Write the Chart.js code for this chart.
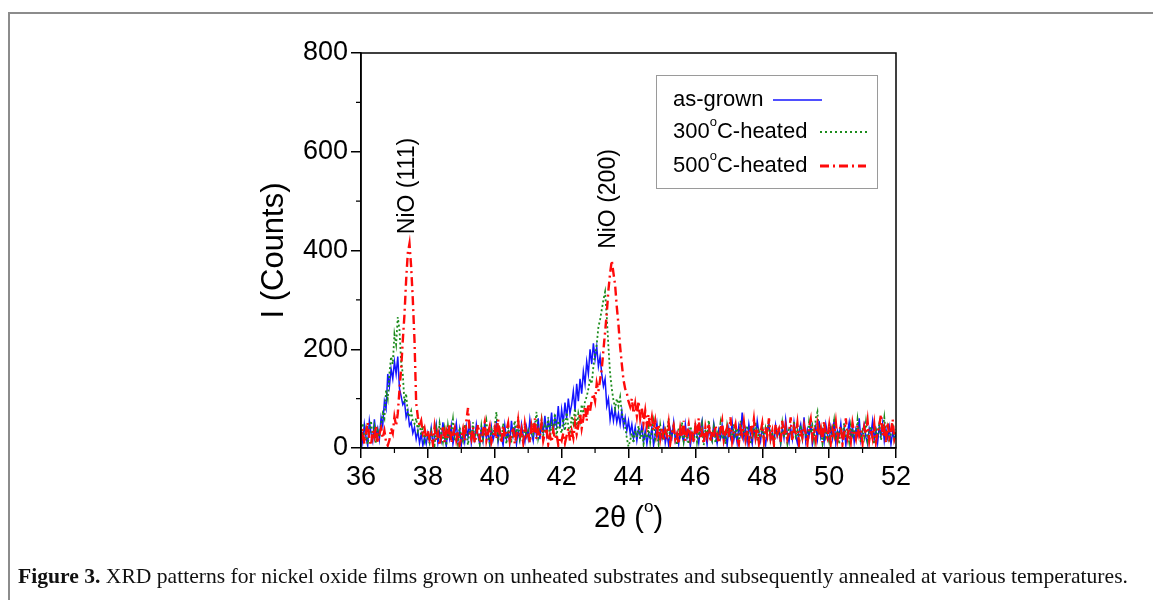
<!DOCTYPE html>
<html>
<head>
<meta charset="utf-8">
<title>XRD patterns - NiO films</title>
<script src="https://cdn.jsdelivr.net/npm/chart.js@4.4.1/dist/chart.umd.min.js"></script>
<style>
  body { margin: 0; background: #fff; width: 1153px; height: 600px; overflow: hidden; position: relative; }
  #frame { position: absolute; left: 8px; top: 12px; right: 0; bottom: -4px; border-top: 2px solid #8c8c8c; border-left: 2px solid #8c8c8c; }
  #wrap { position: absolute; left: 0; top: 0; width: 1153px; height: 600px; }
  #caption { position: absolute; left: 18px; top: 564px; font: 21px "Liberation Serif", serif; color: #111; white-space: nowrap; transform-origin: 0 0; }
</style>
</head>
<body>
<div id="frame"></div>
<div id="wrap"><canvas id="xrdChart" width="1153" height="600"></canvas></div>
<div id="caption"><b>Figure 3.</b> XRD patterns for nickel oxide films grown on unheated substrates and subsequently annealed at various temperatures.</div>
<script>
// scan grid: 2theta from 36 to 52 deg, 0.05 deg step
const angleStart = 36;
const angleStep = 0.05;
const xTicks = [36, 38, 40, 42, 44, 46, 48, 50, 52];
const yTicks = [0, 200, 400, 600, 800];
const seriesNames = ["as-grown", "300°C-heated", "500°C-heated"];
const peakLabels = ["NiO (111)", "NiO (200)"];
const peakAngles = [37.41, 43.42];

// intensity (counts)
const asGrown = [
  35,12,48,22,5,55,30,14,58,25,40,18,62,
  45,95,80,150,125,160,140,175,150,185,120,105,88,95,62,75,45,52,30,42,18,35,10,28,5,22,8,30,
  12,40,6,25,48,10,32,15,52,20,
  4,35,18,45,8,28,50,14,38,6,
  30,12,44,22,55,10,36,18,48,25,
  8,40,15,52,20,34,6,42,16,30,
  50,12,38,22,5,46,18,32,10,55,
  24,40,8,35,16,48,26,12,42,20,
  58,30,14,45,25,60,18,50,32,65,
  28,55,38,72,30,62,45,85,40,78,
  50,92,60,100,70,88,115,75,130,95,
  140,110,155,130,175,150,200,170,212,180,
  205,165,185,150,125,140,85,100,57,80,
  55,78,52,70,48,75,45,62,35,55,
  30,48,20,42,15,38,25,45,12,35,
  8,30,18,42,5,26,50,14,33,20,
  45,10,28,6,38,22,52,15,30,8,
  40,25,12,48,20,35,4,30,16,44,
  26,10,38,55,18,32,7,42,24,14,
  50,28,9,36,20,46,12,30,5,40,
  22,52,16,34,10,45,28,72,20,38,
  12,48,25,8,40,18,55,30,14,44,
  22,6,36,50,16,30,10,46,24,38,
  8,42,20,58,28,12,40,18,52,26,
  10,34,48,20,62,14,38,25,50,8,
  30,45,18,55,22,36,12,48,28,15,
  42,20,58,10,35,25,50,16,40,6,
  32,52,20,44,12,38,26,60,15,34,
  48,22,8,40,28,55,18,36,10,45,
  25,50,14,38,20,42,8,32,18,28
];
const heated300 = [
  25,50,15,38,8,30,55,20,42,10,35,22,48,
  70,60,117,100,150,185,170,230,210,265,240,175,150,91,110,70,63,75,55,49,60,35,50,25,45,15,30,20,
  10,35,22,6,40,18,50,28,12,38,
  5,45,20,32,58,15,26,8,42,24,
  14,48,30,6,36,20,52,12,40,25,
  8,44,18,34,55,22,10,38,28,46,
  73,20,36,12,50,30,8,42,22,15,
  38,55,26,63,18,30,10,45,24,35,
  14,52,28,40,73,20,36,58,25,44,
  30,62,18,48,35,70,22,55,40,30,
  60,35,72,45,28,65,50,80,40,70,
  55,88,70,95,104,120,140,130,165,190,
  210,245,260,280,300,316,266,205,151,120,
  97,80,100,85,103,70,60,43,20,3,
  15,30,10,35,22,45,18,38,8,30,
  20,42,12,35,55,18,30,8,46,24,
  15,38,28,60,10,32,45,20,6,40,
  26,52,14,36,22,8,44,30,18,50,
  12,34,25,48,6,38,20,56,28,15,
  42,10,32,22,50,18,36,8,45,25,
  30,14,48,20,40,10,55,26,35,16,
  45,22,8,38,28,52,15,34,20,46,
  12,40,25,58,18,32,6,44,26,36,
  14,50,22,38,10,42,30,18,55,24,
  35,8,46,20,40,28,12,52,30,45,
  18,60,73,25,38,10,48,22,35,14,
  44,28,55,16,36,8,42,24,50,20,
  32,12,46,26,38,18,58,30,10,40,
  22,52,15,34,44,20,8,38,28,48,
  16,35,62,24,42,12,30,50,20,38
];
const heated500 = [
  15,40,8,30,52,18,5,35,22,45,10,28,40,
  20,35,12,5,16,40,30,63,45,70,117,160,218,270,340,395,414,367,300,218,91,63,45,55,30,40,20,35,
  18,28,8,42,15,30,5,25,45,12,
  35,20,50,10,28,40,16,32,6,22,
  38,14,55,81,30,18,42,10,26,48,
  20,8,36,52,15,30,44,12,25,40,
  18,58,28,10,46,22,35,50,14,30,
  42,8,26,55,20,38,12,48,24,32,
  10,45,28,60,18,35,22,50,15,30,
  40,8,25,12,35,18,28,6,22,15,
  30,10,25,40,15,35,20,50,28,45,
  71,40,60,85,55,90,75,97,110,95,
  131,115,138,160,198,235,273,320,354,380,
  354,330,286,250,205,170,138,120,111,95,
  84,100,70,90,65,95,60,80,50,75,
  45,68,40,62,35,55,28,48,20,42,
  15,35,25,50,10,32,45,18,28,8,
  40,22,55,14,30,48,20,36,10,44,
  26,60,18,32,8,42,24,50,12,35,
  20,46,28,10,38,55,16,30,42,22,
  62,14,34,48,20,8,40,26,52,18,
  36,12,45,30,58,22,40,10,32,50,
  15,42,26,60,20,35,8,48,28,38,
  12,55,24,44,18,30,62,14,40,25,
  50,10,36,22,46,30,8,42,58,20,
  34,15,48,26,40,12,55,30,20,45,
  10,38,25,52,16,35,44,8,28,60,
  22,40,14,50,30,18,46,25,36,10,
  42,28,55,15,38,20,48,12,32,45,
  68,25,40,10,52,22,35,58,18,30
];

[asGrown, heated300, heated500].forEach((s, k) => {
  if (s.length !== 321) throw new Error("series " + k + " has " + s.length + " points");
});

function toPoints(values) {
  return values.map((v, i) => ({ x: angleStart + i * angleStep, y: v }));
}

const BLUE = "#1414ff";
const GREEN = "#1c8c1c";
const RED = "#ff0a0a";
const FONT = "'Liberation Sans', Arial, sans-serif";

// draws text where sup pieces are small raised degree marks
function drawSup(ctx, parts, x, y, size, align) {
  const big = size + "px " + FONT;
  const small = Math.round(size * 0.6) + "px " + FONT;
  let total = 0;
  parts.forEach(p => {
    ctx.font = p.sup ? small : big;
    total += ctx.measureText(p.t).width;
  });
  let cx = align === "center" ? x - total / 2 : x;
  ctx.textAlign = "left";
  ctx.textBaseline = "middle";
  parts.forEach(p => {
    ctx.font = p.sup ? small : big;
    ctx.fillText(p.t, cx, p.sup ? y - size * 0.42 : y);
    cx += ctx.measureText(p.t).width;
  });
}

const extrasPlugin = {
  id: "extras",
  afterDraw(chart) {
    const ctx = chart.ctx;
    const area = chart.chartArea;
    const xs = chart.scales.x, ys = chart.scales.y;
    ctx.save();
    ctx.fillStyle = "#000";
    ctx.strokeStyle = "#000";

    // box round the plot
    ctx.lineWidth = 1.5;
    ctx.strokeRect(area.left, area.top, area.right - area.left, area.bottom - area.top);

    // minor ticks
    ctx.lineWidth = 1.2;
    ctx.beginPath();
    for (let v = 37; v < 52; v += 2) {
      const px = xs.getPixelForValue(v);
      ctx.moveTo(px, area.bottom);
      ctx.lineTo(px, area.bottom + 5);
    }
    for (let v = 100; v < 800; v += 200) {
      const py = ys.getPixelForValue(v);
      ctx.moveTo(area.left, py);
      ctx.lineTo(area.left - 5, py);
    }
    ctx.stroke();

    // peak labels, rotated
    ctx.font = "23px " + FONT;
    ctx.textAlign = "center";
    ctx.textBaseline = "middle";
    const labelY = [186, 199];
    peakLabels.forEach((lab, k) => {
      const px = xs.getPixelForValue(peakAngles[k]);
      ctx.save();
      ctx.translate(px, labelY[k]);
      ctx.rotate(-Math.PI / 2);
      ctx.fillText(lab, 0, 0);
      ctx.restore();
    });

    // x axis title
    drawSup(ctx, [{ t: "2θ (" }, { t: "o", sup: true }, { t: ")" }], (area.left + area.right) / 2, 519, 29, "center");

    // legend
    const lx = 656, ly = 75, lw = 221, lh = 113;
    ctx.strokeStyle = "#9a9a9a";
    ctx.lineWidth = 1;
    ctx.strokeRect(lx + 0.5, ly + 0.5, lw, lh);
    const rows = [100, 132, 166];
    drawSup(ctx, [{ t: "as-grown" }], 673, rows[0], 22, "left");
    drawSup(ctx, [{ t: "300" }, { t: "o", sup: true }, { t: "C-heated" }], 673, rows[1], 22, "left");
    drawSup(ctx, [{ t: "500" }, { t: "o", sup: true }, { t: "C-heated" }], 673, rows[2], 22, "left");
    const samples = [
      { x0: 773, x1: 822, c: BLUE, w: 1.6, d: [] },
      { x0: 820, x1: 868, c: GREEN, w: 1.8, d: [2, 3] },
      { x0: 820, x1: 866, c: RED, w: 3, d: [9, 4, 2, 4] }
    ];
    samples.forEach((s, k) => {
      ctx.strokeStyle = s.c;
      ctx.lineWidth = s.w;
      ctx.setLineDash(s.d);
      ctx.beginPath();
      ctx.moveTo(s.x0, rows[k]);
      ctx.lineTo(s.x1, rows[k]);
      ctx.stroke();
    });
    ctx.setLineDash([]);
    ctx.restore();
  }
};

const padLeft = 256, padTop = 53, padRight = 1153 - 896, padBottom = 92;

new Chart(document.getElementById("xrdChart"), {
  type: "line",
  data: {
    datasets: [
      { label: seriesNames[0], data: toPoints(asGrown), borderColor: BLUE, borderWidth: 1.5, order: 2 },
      { label: seriesNames[1], data: toPoints(heated300), borderColor: GREEN, borderWidth: 1.8, borderDash: [2, 2.5], order: 1 },
      { label: seriesNames[2], data: toPoints(heated500), borderColor: RED, borderWidth: 2.4, borderDash: [9, 4, 2, 4], order: 0 }
    ]
  },
  options: {
    responsive: false,
    animation: false,
    devicePixelRatio: 1,
    elements: { point: { radius: 0 }, line: { tension: 0 } },
    layout: { padding: { left: padLeft, top: padTop, right: padRight, bottom: padBottom } },
    plugins: { legend: { display: false }, tooltip: { enabled: false } },
    scales: {
      x: {
        type: "linear",
        min: 36,
        max: 52,
        afterBuildTicks: s => { s.ticks = xTicks.map(v => ({ value: v })); },
        afterFit: s => { s.height = 600 - 448 - padBottom; },
        grid: { drawOnChartArea: false, drawTicks: true, tickLength: 10, color: "#000", lineWidth: 1.5 },
        border: { display: true, color: "#000", width: 1.5 },
        ticks: { color: "#000", font: { family: FONT, size: 27 }, padding: 3, maxRotation: 0 }
      },
      y: {
        type: "linear",
        min: 0,
        max: 800,
        afterBuildTicks: s => { s.ticks = yTicks.map(v => ({ value: v })); },
        afterFit: s => { s.width = 361 - padLeft; },
        grid: { drawOnChartArea: false, drawTicks: true, tickLength: 10, color: "#000", lineWidth: 1.5 },
        border: { display: true, color: "#000", width: 1.5 },
        ticks: { color: "#000", font: { family: FONT, size: 27 }, padding: 3 },
        title: { display: true, text: "I (Counts)", color: "#000", font: { family: FONT, size: 31 }, padding: 0 }
      }
    }
  },
  plugins: [extrasPlugin]
});

// stretch the caption to the width it has in the figure
const cap = document.getElementById("caption");
const capTarget = 1110;
cap.style.transform = "scaleX(" + (capTarget / cap.getBoundingClientRect().width).toFixed(4) + ")";
</script>
</body>
</html>
